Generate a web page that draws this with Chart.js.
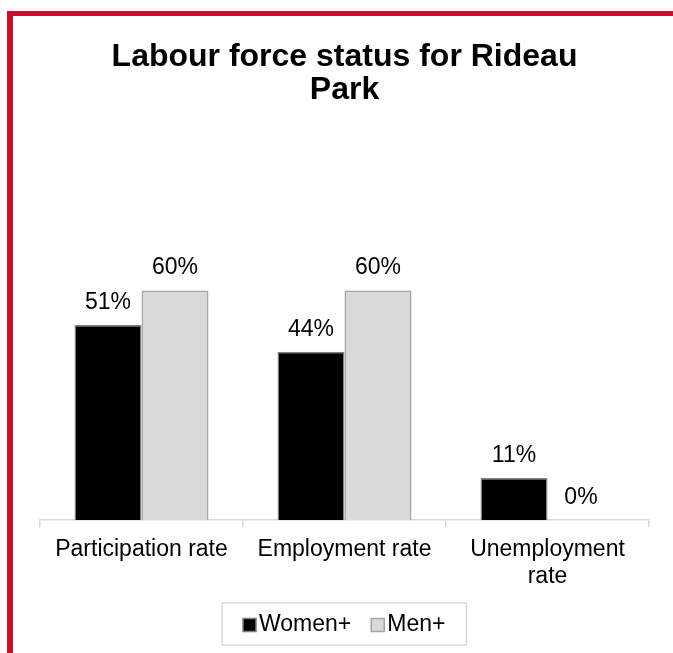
<!DOCTYPE html>
<html>
<head>
<meta charset="utf-8">
<script src="https://cdn.jsdelivr.net/npm/chart.js@4/dist/chart.umd.min.js"></script>
<style>
  html, body { margin: 0; padding: 0; background: #fff; }
  canvas { display: block; }
</style>
</head>
<body>
<canvas id="chart" width="673" height="653"></canvas>
<script>
const categories = ['Participation rate', 'Employment rate', ['Unemployment', 'rate']]
const seriesNames = ['Women+', 'Men+']
const women = [51, 44, 11]
const men = [60, 60, 0]

const fontFamily = '"Liberation Sans", Arial, sans-serif'
const textColor = '#000'
const lineGray = '#d9d9d9'
const red = '#c8102e'

// red frame on the top and left edge
const framePlugin = {
  id: 'frame',
  beforeDraw: (chart) => {
    const ctx = chart.ctx
    ctx.save()
    ctx.fillStyle = red
    ctx.fillRect(7, 11, 6, chart.height - 11)
    ctx.fillRect(7, 11, chart.width - 7, 5)
    ctx.restore()
  }
}

const valueLabels = {
  id: 'valueLabels',
  afterDatasetsDraw: (chart) => {
    const ctx = chart.ctx
    ctx.save()
    ctx.font = `23px ${fontFamily}`
    ctx.fillStyle = textColor
    ctx.textAlign = 'center'
    ctx.textBaseline = 'alphabetic'
    chart.data.datasets.forEach((ds, i) => {
      chart.getDatasetMeta(i).data.forEach((bar, j) => {
        ctx.fillText(ds.data[j] + '%', bar.x, bar.y - 16)
      })
    })
    ctx.restore()
  }
}

// boxed legend drawn under the axis labels
const boxLegend = {
  id: 'boxLegend',
  afterDraw: (chart) => {
    const ctx = chart.ctx
    const sq = 13, gap = 3, itemGap = 20, pad = 21, h = 42
    ctx.save()
    ctx.font = `23px ${fontFamily}`
    const items = chart.data.datasets.map(ds => ({ ds, w: ctx.measureText(ds.label).width }))
    const total = items.reduce((s, it) => s + sq + gap + it.w, 0) + itemGap * (items.length - 1) + pad * 2
    const area = chart.chartArea
    const left = Math.round((area.left + area.right) / 2 - total / 2)
    const top = chart.height - 8 - h
    ctx.strokeStyle = lineGray
    ctx.lineWidth = 1.5
    ctx.strokeRect(left, top, total, h)
    let x = left + pad
    const cy = top + h / 2 + 1
    items.forEach(it => {
      ctx.fillStyle = it.ds.backgroundColor
      ctx.fillRect(x, cy - sq / 2, sq, sq)
      ctx.strokeStyle = it.ds.borderColor
      ctx.lineWidth = 1.5
      ctx.strokeRect(x, cy - sq / 2, sq, sq)
      ctx.fillStyle = textColor
      ctx.textBaseline = 'middle'
      ctx.textAlign = 'left'
      ctx.fillText(it.ds.label, x + sq + gap, cy)
      x += sq + gap + it.w + itemGap
    })
    ctx.restore()
  }
}

new Chart(document.getElementById('chart'), {
  type: 'bar',
  data: {
    labels: categories,
    datasets: [
      {
        label: seriesNames[0],
        data: women,
        backgroundColor: '#000000',
        borderColor: '#7f7f7f',
        borderWidth: 1.5
      },
      {
        label: seriesNames[1],
        data: men,
        backgroundColor: '#d9d9d9',
        borderColor: '#a6a6a6',
        borderWidth: 1.5
      }
    ]
  },
  options: {
    responsive: false,
    animation: false,
    categoryPercentage: 0.66,
    barPercentage: 1,
    layout: {
      padding: { left: 40, right: 24, top: 23, bottom: 54 }
    },
    scales: {
      y: {
        display: false,
        min: 0,
        max: 80
      },
      x: {
        border: { color: lineGray, width: 1.5 },
        grid: {
          drawOnChartArea: false,
          drawTicks: true,
          tickLength: 7,
          color: lineGray,
          lineWidth: 1.5
        },
        ticks: {
          color: textColor,
          padding: 9,
          maxRotation: 0,
          font: { family: fontFamily, size: 23, lineHeight: 1.17 }
        }
      }
    },
    plugins: {
      legend: { display: false },
      tooltip: { enabled: false },
      title: {
        display: true,
        text: ['Labour force status for Rideau', 'Park'],
        color: textColor,
        font: { family: fontFamily, size: 32, weight: 'bold', lineHeight: 1.03 },
        padding: { top: 18, bottom: 107 }
      }
    }
  },
  plugins: [framePlugin, valueLabels, boxLegend]
})
</script>
</body>
</html>
